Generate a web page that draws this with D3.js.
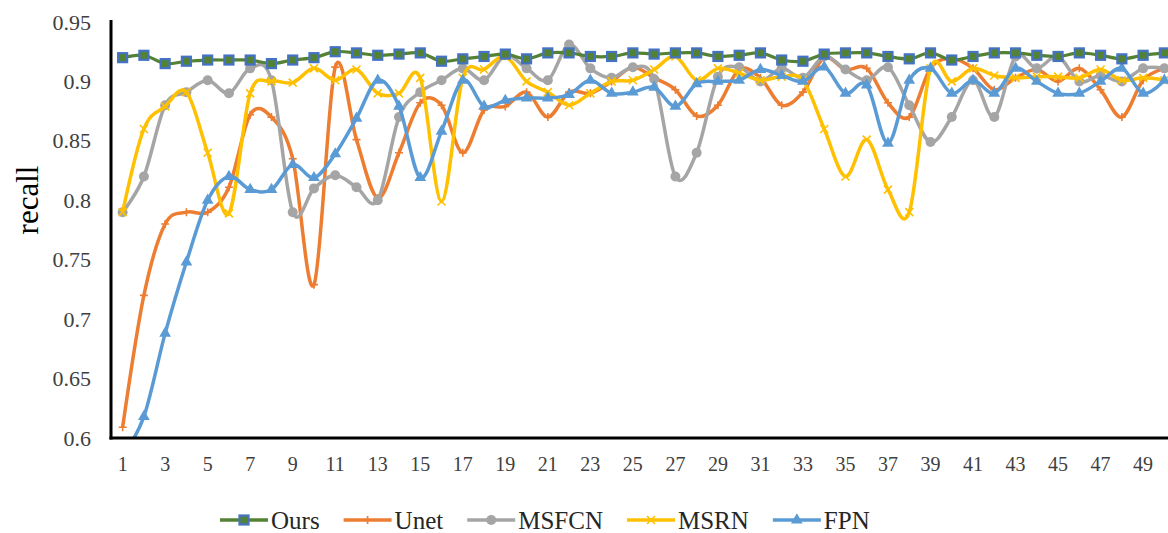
<!DOCTYPE html>
<html>
<head>
<meta charset="utf-8">
<script src="https://cdn.jsdelivr.net/npm/d3@7"></script>
<style>
  body { margin: 0; background: #fff; }
  svg { display: block; }
</style>
</head>
<body>
<div id="chart"></div>
<script>
// epochs 1..50
const epochs = d3.range(1, 51);
const xTickLabels = d3.range(1, 50, 2);
const yTicks = [0.6, 0.65, 0.7, 0.75, 0.8, 0.85, 0.9, 0.95];

const ours = [0.920,0.922,0.915,0.917,0.918,0.918,0.918,0.915,0.918,0.920,
  0.925,0.924,0.922,0.923,0.924,0.917,0.919,0.921,0.923,0.919,
  0.924,0.924,0.921,0.921,0.924,0.923,0.924,0.924,0.921,0.922,
  0.924,0.918,0.917,0.923,0.924,0.924,0.921,0.919,0.924,0.918,
  0.921,0.924,0.924,0.922,0.921,0.924,0.922,0.919,0.922,0.924];
const unet = [0.609,0.720,0.780,0.790,0.790,0.811,0.872,0.870,0.835,0.729,
  0.912,0.851,0.802,0.840,0.882,0.880,0.840,0.876,0.879,0.891,
  0.870,0.891,0.890,0.900,0.912,0.903,0.893,0.871,0.880,0.910,
  0.903,0.880,0.891,0.920,0.910,0.911,0.882,0.870,0.911,0.919,
  0.911,0.893,0.903,0.910,0.900,0.911,0.893,0.870,0.901,0.911];
const msfcn = [0.790,0.820,0.880,0.891,0.901,0.890,0.911,0.901,0.790,0.810,
  0.821,0.811,0.800,0.870,0.891,0.901,0.911,0.901,0.922,0.911,
  0.901,0.931,0.911,0.903,0.912,0.902,0.820,0.840,0.904,0.912,
  0.900,0.911,0.903,0.921,0.910,0.901,0.912,0.880,0.849,0.870,
  0.901,0.870,0.921,0.911,0.921,0.900,0.905,0.900,0.911,0.911];
const msrn = [0.790,0.860,0.879,0.891,0.840,0.789,0.890,0.900,0.899,0.911,
  0.901,0.910,0.890,0.890,0.903,0.799,0.903,0.910,0.921,0.900,
  0.891,0.880,0.890,0.900,0.901,0.910,0.921,0.901,0.911,0.907,
  0.901,0.904,0.901,0.860,0.820,0.851,0.809,0.790,0.911,0.900,
  0.911,0.905,0.903,0.904,0.904,0.903,0.910,0.901,0.903,0.901];
const fpn = [0.585,0.618,0.688,0.748,0.800,0.820,0.809,0.809,0.830,0.819,
  0.839,0.869,0.901,0.879,0.819,0.858,0.901,0.879,0.884,0.886,
  0.886,0.889,0.901,0.890,0.891,0.895,0.879,0.898,0.900,0.901,
  0.910,0.905,0.900,0.912,0.890,0.897,0.848,0.901,0.911,0.890,
  0.901,0.890,0.911,0.900,0.890,0.890,0.900,0.911,0.890,0.901];

// drawn back to front, legend uses legendOrder
const series = [
  { name: "Unet",  values: unet,  color: "#ED7D31", marker: "plus" },
  { name: "MSFCN", values: msfcn, color: "#A5A5A5", marker: "circle" },
  { name: "MSRN",  values: msrn,  color: "#FFC000", marker: "cross" },
  { name: "FPN",   values: fpn,   color: "#5B9BD5", marker: "triangle" },
  { name: "Ours",  values: ours,  color: "#548235", marker: "square" }
];
const legendOrder = ["Ours", "Unet", "MSFCN", "MSRN", "FPN"];

const FONT = '"Liberation Serif", "Times New Roman", serif';
const W = 1168, H = 533;
const plotLeft = 111, plotTop = 20, plotBottom = 438, plotRight = 1175;

const svg = d3.select("#chart").append("svg").attr("width", W).attr("height", H)
  .attr("font-family", FONT);

const x = d3.scaleBand().domain(epochs).range([plotLeft + 1, plotRight]);
const cx = d => x(d) + x.bandwidth() / 2;
const y = d3.scaleLinear().domain([0.6, 0.95]).range([plotBottom, 22]);

svg.append("defs").append("clipPath").attr("id", "plot")
  .append("rect").attr("x", plotLeft).attr("y", plotTop - 5)
  .attr("width", plotRight - plotLeft).attr("height", plotBottom - plotTop + 5);

const line = d3.line()
  .x((v, i) => cx(epochs[i]))
  .y(v => y(v))
  .curve(d3.curveCardinal.tension(0));

function drawMarker(g, type, color) {
  if (type === "square") {
    g.append("rect").attr("x", -4.5).attr("y", -4.5).attr("width", 9).attr("height", 9)
      .attr("fill", "#548235").attr("stroke", "#4472C4").attr("stroke-width", 2.2);
  } else if (type === "circle") {
    g.append("circle").attr("r", 5).attr("fill", color);
  } else if (type === "triangle") {
    g.append("path").attr("d", d3.symbol(d3.symbolTriangle, 60)()).attr("fill", color);
  } else if (type === "plus") {
    g.append("path").attr("d", "M-4,0H4M0,-4V4").attr("stroke", color).attr("stroke-width", 1.6);
  } else if (type === "cross") {
    g.append("path").attr("d", "M-4,-4L4,4M-4,4L4,-4").attr("stroke", color).attr("stroke-width", 1.6);
  }
}

const plot = svg.append("g").attr("clip-path", "url(#plot)");

series.forEach(s => {
  const g = plot.append("g");
  g.append("path")
    .attr("d", line(s.values))
    .attr("fill", "none")
    .attr("stroke", s.color)
    .attr("stroke-width", s.name === "Ours" ? 3.2 : 3.5)
    .attr("stroke-linejoin", "round");
  s.values.forEach((v, i) => {
    const m = g.append("g").attr("transform", `translate(${cx(epochs[i])},${y(v)})`);
    drawMarker(m, s.marker, s.color);
  });
});

// axes
const xAxis = svg.append("g").attr("transform", `translate(0,${plotBottom})`)
  .call(d3.axisBottom(x).tickValues(xTickLabels).tickSize(0).tickPadding(19));
xAxis.attr("font-family", FONT).attr("font-size", 20);
xAxis.select(".domain").remove();
xAxis.selectAll("text").attr("fill", "#404040");

const yAxis = svg.append("g").attr("transform", `translate(${plotLeft},0)`)
  .call(d3.axisLeft(y).tickValues(yTicks).tickSize(0).tickPadding(20)
    .tickFormat(d => String(+d.toFixed(2))));
yAxis.attr("font-family", FONT).attr("font-size", 22);
yAxis.select(".domain").remove();
yAxis.selectAll("text").attr("fill", "#404040");

svg.append("line").attr("x1", plotLeft).attr("x2", plotLeft).attr("y1", plotTop).attr("y2", plotBottom + 1.5)
  .attr("stroke", "#000").attr("stroke-width", 3);
svg.append("line").attr("x1", plotLeft - 1.5).attr("x2", W).attr("y1", plotBottom).attr("y2", plotBottom)
  .attr("stroke", "#000").attr("stroke-width", 3);

svg.append("text")
  .attr("transform", `translate(38,200) rotate(-90)`)
  .attr("text-anchor", "middle")
  .attr("font-size", 31)
  .attr("fill", "#000")
  .text("recall");

// legend
const legend = svg.append("g").attr("transform", "translate(220,520)");
let lx = 0;
legendOrder.forEach(name => {
  const s = series.find(d => d.name === name);
  const item = legend.append("g").attr("transform", `translate(${lx},0)`);
  item.append("line").attr("x1", 0).attr("x2", 48).attr("y1", 0).attr("y2", 0)
    .attr("stroke", s.color).attr("stroke-width", 3.5);
  drawMarker(item.append("g").attr("transform", "translate(24,0)"), s.marker, s.color);
  const t = item.append("text").attr("x", 51).attr("y", 0).attr("dy", "0.35em")
    .attr("font-size", 25).attr("fill", "#262626").text(name);
  lx += 51 + t.node().getComputedTextLength() + 24;
});
</script>
</body>
</html>
